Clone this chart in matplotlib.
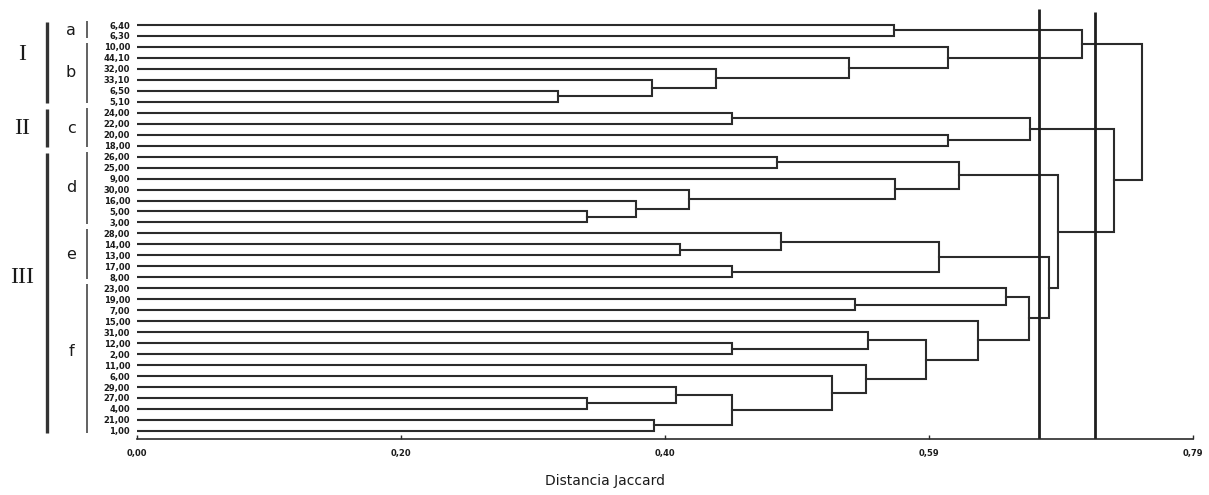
import matplotlib
matplotlib.use("Agg")
import matplotlib.pyplot as plt
import matplotlib.transforms as mtransforms

# leaves, top to bottom
leaf_labels = ['6,40', '6,30', '10,00', '44,10', '32,00', '33,10', '6,50', '5,10',
               '24,00', '22,00', '20,00', '18,00',
               '26,00', '25,00', '9,00', '30,00', '16,00', '5,00', '3,00',
               '28,00', '14,00', '13,00', '17,00', '8,00',
               '23,00', '19,00', '7,00', '15,00', '31,00', '12,00', '2,00', '11,00',
               '6,00', '29,00', '27,00', '4,00', '21,00', '1,00']

# merges: node id = 38 + row index
merge_left = [0, 6, 5, 4, 3, 2, 38,
              8, 10, 45,
              12, 17, 16, 15, 14, 48,
              20, 19, 22, 55,
              25, 24, 29, 28, 34, 33, 36, 63, 32, 31, 61, 27, 59,
              57, 53, 47, 44]
merge_right = [1, 7, 39, 40, 41, 42, 43,
               9, 11, 46,
               13, 18, 49, 50, 51, 52,
               21, 54, 23, 56,
               26, 58, 30, 60, 35, 62, 37, 64, 65, 66, 67, 68, 69,
               70, 71, 72, 73]
merge_height = [0.566, 0.315, 0.385, 0.433, 0.533, 0.607, 0.707,
                0.445, 0.607, 0.668,
                0.479, 0.337, 0.373, 0.413, 0.567, 0.615,
                0.406, 0.482, 0.445, 0.600,
                0.537, 0.650, 0.445, 0.547, 0.337, 0.403, 0.387, 0.445, 0.520,
                0.545, 0.590, 0.629, 0.667,
                0.682, 0.689, 0.731, 0.752]

cut_lines = [0.675, 0.717]

xtick_vals = [0.0, 0.1975, 0.395, 0.5925, 0.79]
xtick_labels = ['0,00', '0,20', '0,40', '0,59', '0,79']

group_names = ['I', 'II', 'III']
group_first = [0, 8, 12]
group_last = [7, 11, 37]

sub_names = ['a', 'b', 'c', 'd', 'e', 'f']
sub_first = [0, 2, 8, 12, 19, 24]
sub_last = [1, 7, 11, 18, 23, 37]

# label nudges (in leaf rows) relative to the middle of each bracket
group_shift = [-0.8, -0.1, -1.5]
sub_shift = [0.0, -0.2, -0.1, -0.2, -0.1, -0.7]

n = len(leaf_labels)
fig = plt.figure(figsize=(12.09, 4.95), dpi=100)
ax = fig.add_axes([137/1209, 1 - 439/495, (1193 - 137)/1209, 439/495])

lc = '#2b2b2b'
tc = '#1a1a1a'
ypos = list(range(n))
hpos = [0.0] * n
for l, r, h in zip(merge_left, merge_right, merge_height):
    ax.plot([hpos[l], h, h, hpos[r]], [ypos[l], ypos[l], ypos[r], ypos[r]],
            color=lc, lw=1.5, solid_joinstyle='miter')
    ypos.append((ypos[l] + ypos[r]) / 2)
    hpos.append(h)

top_idx = -2.28
bot_idx = 37.74
for c, t in zip(cut_lines, [-1.46, -1.19]):
    ax.plot([c, c], [t, bot_idx], color='#1e1e1e', lw=2.0, solid_capstyle='butt')

ax.set_xlim(0, 0.79)
ax.set_ylim(bot_idx, top_idx)
for s in ['top', 'right', 'left']:
    ax.spines[s].set_visible(False)
ax.spines['bottom'].set_linewidth(1.2)
ax.spines['bottom'].set_color(lc)
ax.set_xticks(xtick_vals)
ax.set_xticklabels(xtick_labels, fontsize=6, color=tc, fontweight='bold')
ax.tick_params(axis='x', direction='in', length=3, width=1, pad=7, colors=lc)
ax.tick_params(axis='x', labelcolor=tc)
ax.set_yticks(range(n))
ax.set_yticklabels(leaf_labels, fontsize=6, color=tc, fontweight='bold')
ax.tick_params(axis='y', length=0, pad=5)

fig.text(605/1209, 1 - 481/495, 'Distancia Jaccard', ha='center', va='center',
         fontsize=10, color=tc)

tr = mtransforms.blended_transform_factory(fig.transFigure, ax.transData)
for name, a, b, d in zip(group_names, group_first, group_last, group_shift):
    ax.plot([47/1209, 47/1209], [a - 0.3, b + 0.15], color='#333333', lw=2.4,
            transform=tr, clip_on=False, solid_capstyle='butt')
    ax.text(22/1209, (a + b) / 2 + d, name, transform=tr, ha='center', va='center',
            fontsize=17, family='Liberation Serif', color=tc)
for name, a, b, d in zip(sub_names, sub_first, sub_last, sub_shift):
    ax.plot([87/1209, 87/1209], [a - 0.4, b + 0.15], color='#555555', lw=1.3,
            transform=tr, clip_on=False, solid_capstyle='butt')
    ax.text(71/1209, (a + b) / 2 + d, name, transform=tr, ha='center', va='center',
            fontsize=11.5, color=tc)

fig.savefig('out.png', dpi=100)
